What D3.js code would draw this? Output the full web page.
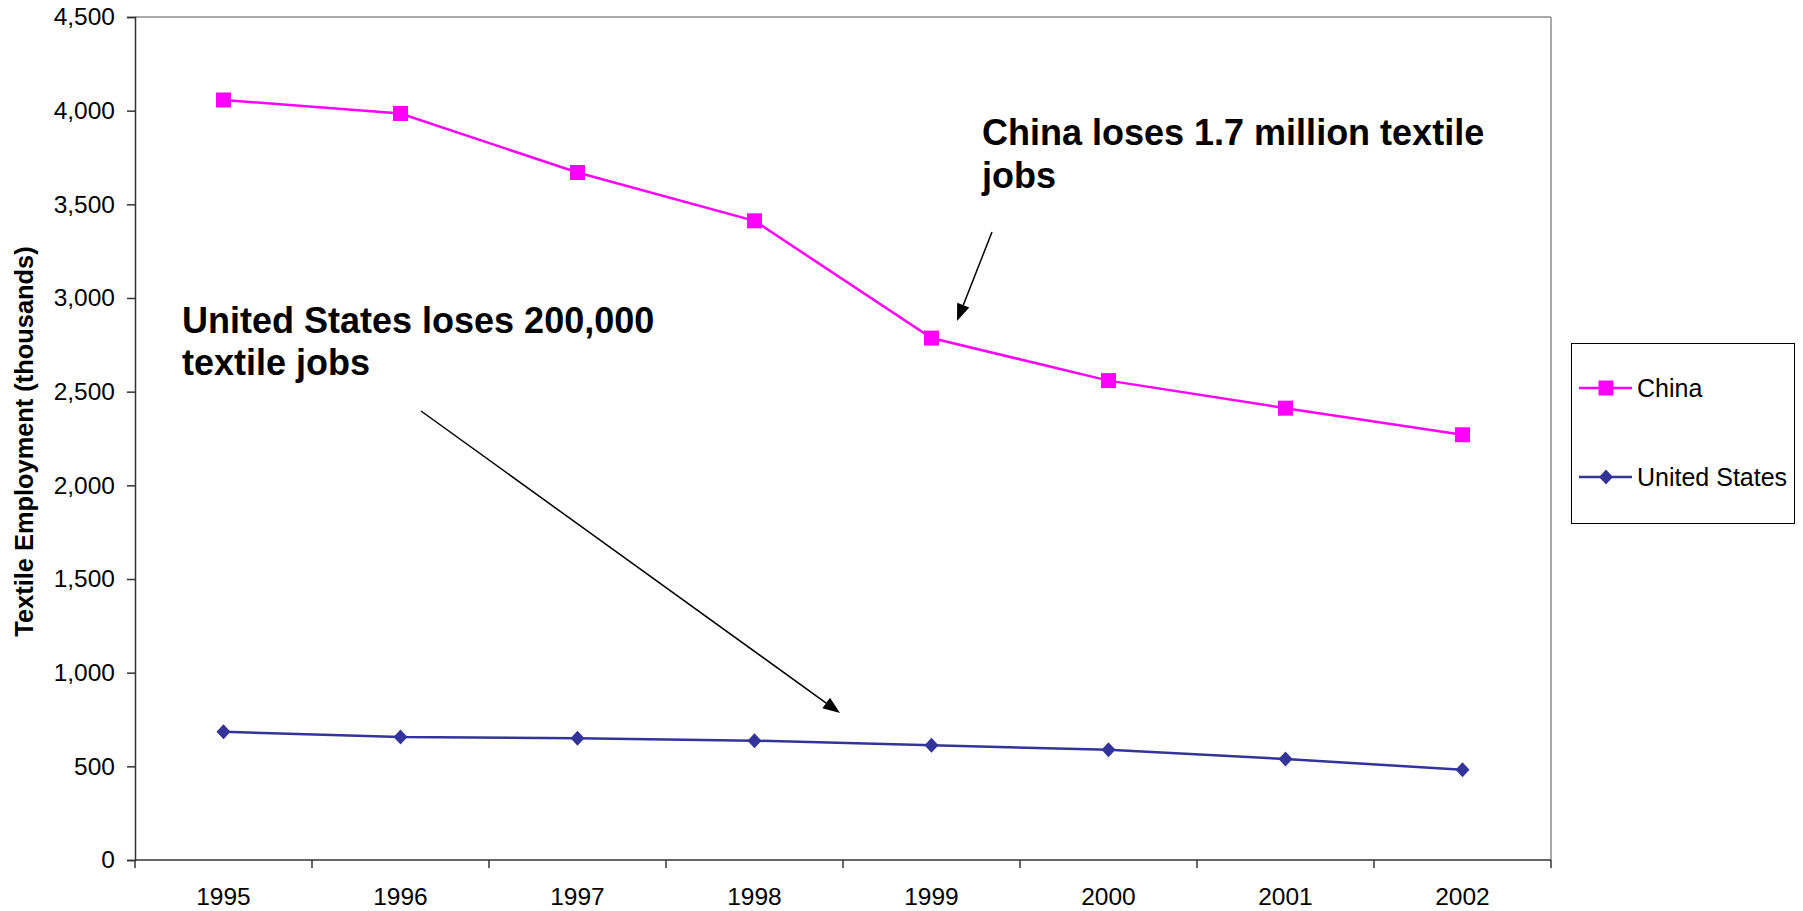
<!DOCTYPE html>
<html>
<head>
<meta charset="utf-8">
<script src="https://cdn.jsdelivr.net/npm/d3@7"></script>
<style>
  html, body { margin: 0; padding: 0; background: #fff; }
  svg { display: block; font-family: "Liberation Sans", Arial, sans-serif; }
</style>
</head>
<body>
<svg id="chart" width="1803" height="911"></svg>
<script>
// ---- data ----
const years = ["1995", "1996", "1997", "1998", "1999", "2000", "2001", "2002"];
const china = [4057, 3985, 3670, 3412, 2786, 2559, 2412, 2270];
const unitedStates = [684, 656, 650, 637, 613, 588, 539, 482];
const yTicks = [0, 500, 1000, 1500, 2000, 2500, 3000, 3500, 4000, 4500];
const seriesNames = ["China", "United States"];
const yTitle = "Textile Employment (thousands)";
const noteChina = ["China loses 1.7 million textile", "jobs"];
const noteUS = ["United States loses 200,000", "textile jobs"];

// ---- layout ----
const plot = { left: 135, top: 17, right: 1551, bottom: 860 };
const chinaColor = "#FF00FF";
const usColor = "#333399";

const svg = d3.select("#chart");

const x = d3.scaleBand().domain(years).range([plot.left, plot.right]).padding(0);
const y = d3.scaleLinear().domain([0, 4500]).range([plot.bottom, plot.top]);

// plot frame (top & right gray)
svg.append("line").attr("x1", plot.left).attr("x2", plot.right).attr("y1", plot.top).attr("y2", plot.top)
  .attr("stroke", "#8c8c8c").attr("stroke-width", 1.5);
svg.append("line").attr("x1", plot.right).attr("x2", plot.right).attr("y1", plot.top).attr("y2", plot.bottom)
  .attr("stroke", "#8c8c8c").attr("stroke-width", 1.5);

// y axis
const yAxis = d3.axisLeft(y).tickValues(yTicks).tickFormat(d3.format(",")).tickSize(8).tickPadding(12);
const gy = svg.append("g").attr("transform", `translate(${plot.left},0)`).call(yAxis);
gy.select(".domain").attr("stroke", "#333").attr("stroke-width", 1.5);
gy.selectAll(".tick line").attr("stroke", "#333").attr("stroke-width", 1.5);
gy.selectAll(".tick text").attr("font-size", 24.5).attr("fill", "#000")
  .attr("font-family", "'Liberation Sans', Arial, sans-serif");

// x axis: ticks at band boundaries
const boundaries = years.map(d => x(d)).concat([plot.right]);
svg.append("line").attr("x1", plot.left).attr("x2", plot.right).attr("y1", plot.bottom).attr("y2", plot.bottom)
  .attr("stroke", "#333").attr("stroke-width", 1.5);
svg.append("g").selectAll("line").data(boundaries).join("line")
  .attr("x1", d => d).attr("x2", d => d).attr("y1", plot.bottom).attr("y2", plot.bottom + 8)
  .attr("stroke", "#333").attr("stroke-width", 1.5);
svg.append("g").selectAll("text").data(years).join("text")
  .attr("x", d => x(d) + x.bandwidth() / 2).attr("y", 905)
  .attr("text-anchor", "middle").attr("font-size", 24.5).attr("fill", "#000")
  .text(d => d);

// y title
svg.append("text")
  .attr("transform", `translate(33,${(plot.top + plot.bottom) / 2 + 3}) rotate(-90)`)
  .attr("text-anchor", "middle").attr("font-size", 25.4).attr("font-weight", "bold")
  .text(yTitle);

const cx = d => x(d) + x.bandwidth() / 2;
const line = d3.line().x((d, i) => cx(years[i])).y(d => y(d));

// China series
svg.append("path").datum(china).attr("d", line)
  .attr("fill", "none").attr("stroke", chinaColor).attr("stroke-width", 2.5);
svg.append("g").selectAll("rect").data(china).join("rect")
  .attr("x", (d, i) => cx(years[i]) - 7.5).attr("y", d => y(d) - 7.5)
  .attr("width", 15).attr("height", 15).attr("fill", chinaColor);

// US series
const diamond = "M0,-7.5L7,0L0,7.5L-7,0Z";
svg.append("path").datum(unitedStates).attr("d", line)
  .attr("fill", "none").attr("stroke", usColor).attr("stroke-width", 2.5);
svg.append("g").selectAll("path").data(unitedStates).join("path")
  .attr("d", diamond)
  .attr("transform", (d, i) => `translate(${cx(years[i])},${y(d)})`)
  .attr("fill", usColor);

// annotations
function note(lines, x0, y0, lh) {
  const t = svg.append("text").attr("font-size", 36).attr("font-weight", "bold").attr("fill", "#000");
  lines.forEach((s, i) => t.append("tspan").attr("x", x0).attr("y", y0 + i * lh).text(s));
}
note(noteChina, 982, 145, 43);
note(noteUS, 182, 333, 42);

function arrow(x1, y1, x2, y2) {
  const ang = Math.atan2(y2 - y1, x2 - x1);
  const L = 17, W = 6.5;
  const bx = x2 - L * Math.cos(ang), by = y2 - L * Math.sin(ang);
  svg.append("line").attr("x1", x1).attr("y1", y1).attr("x2", bx).attr("y2", by)
    .attr("stroke", "#000").attr("stroke-width", 1.5);
  const px = -Math.sin(ang) * W, py = Math.cos(ang) * W;
  svg.append("path")
    .attr("d", `M${x2},${y2}L${bx + px},${by + py}L${bx - px},${by - py}Z`)
    .attr("fill", "#000");
}
arrow(992, 232, 957, 321);
arrow(421, 411, 840, 713);

// legend
const lg = svg.append("g");
lg.append("rect").attr("x", 1571.5).attr("y", 343.5).attr("width", 223).attr("height", 180)
  .attr("fill", "#fff").attr("stroke", "#000").attr("stroke-width", 1);
const legY = [388, 477];
const legColors = [chinaColor, usColor];
seriesNames.forEach((name, i) => {
  lg.append("line").attr("x1", 1579).attr("x2", 1632).attr("y1", legY[i]).attr("y2", legY[i])
    .attr("stroke", legColors[i]).attr("stroke-width", 2.5);
  if (i === 0) {
    lg.append("rect").attr("x", 1598.5).attr("y", legY[i] - 7.5).attr("width", 15).attr("height", 15)
      .attr("fill", legColors[i]);
  } else {
    lg.append("path").attr("d", diamond).attr("transform", `translate(1606,${legY[i]})`).attr("fill", legColors[i]);
  }
  lg.append("text").attr("x", 1637).attr("y", legY[i] + 9).attr("font-size", 25).attr("fill", "#000").text(name);
});
</script>
</body>
</html>
